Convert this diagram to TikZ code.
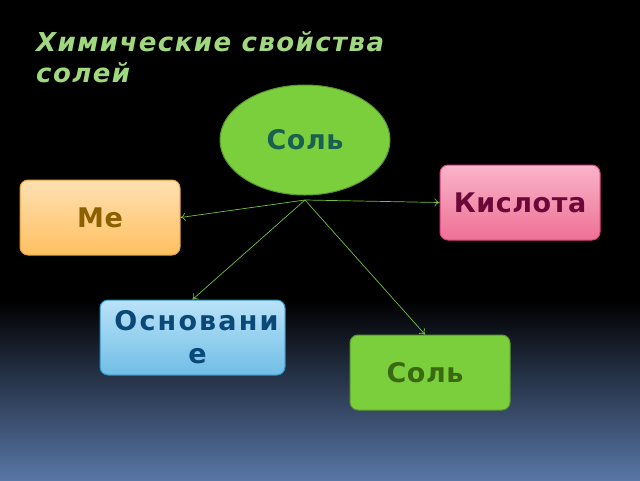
\documentclass[tikz,border=0pt]{standalone}
\usepackage{fontspec}
\setmainfont{DejaVu Sans}
\newfontfamily\boxfont[LetterSpace=2]{DejaVu Sans Bold}
\newfontfamily\widefont[LetterSpace=8]{DejaVu Sans Bold}
\newfontfamily\titlefont[LetterSpace=5.5]{DejaVu Sans Bold Oblique}
\usetikzlibrary{shapes.geometric,arrows.meta}
\definecolor{titlegreen}{RGB}{160,216,128}
\definecolor{saltgreen}{RGB}{124,207,60}
\definecolor{saltborder}{RGB}{90,152,48}
\definecolor{saltteal}{RGB}{26,96,80}
\definecolor{saltdark}{RGB}{58,106,16}
\definecolor{pinktop}{RGB}{250,180,202}
\definecolor{pinkbot}{RGB}{238,112,150}
\definecolor{pinkborder}{RGB}{224,64,128}
\definecolor{maroon}{RGB}{106,8,56}
\definecolor{orangetop}{RGB}{255,224,178}
\definecolor{orangebot}{RGB}{255,192,96}
\definecolor{orangeborder}{RGB}{224,160,64}
\definecolor{metext}{RGB}{138,96,0}
\definecolor{bluetop}{RGB}{186,226,248}
\definecolor{bluebot}{RGB}{112,190,230}
\definecolor{blueborder}{RGB}{48,144,192}
\definecolor{bluetext}{RGB}{10,72,120}
\definecolor{arrowgreen}{RGB}{112,192,64}
\definecolor{bgbottom}{RGB}{88,118,166}
\tikzset{
  boxbase/.style={rounded corners=8pt, minimum width=160pt, minimum height=75pt,
    line width=1pt, font=\boxfont\fontsize{27}{33}\selectfont, align=center, inner sep=0pt},
  link/.style={draw=arrowgreen, line width=0.7pt, -{To[length=5pt,width=8pt]}},
}
\begin{document}
\begin{tikzpicture}[x=1pt,y=-1pt]
\useasboundingbox (0,0) rectangle (640,480);
\fill[black] (0,0) rectangle (640,480);
\shade[top color=black, bottom color=bgbottom] (0,300) rectangle (640,480);
\node[anchor=base west, text=titlegreen, font=\titlefont\fontsize{26}{31}\selectfont, inner sep=0pt, align=left] (title) at (36,82) {Химические свойства\\солей};
\node[ellipse, minimum width=170pt, minimum height=110pt, fill=saltgreen, draw=saltborder, line width=1pt, text=saltteal, font=\boxfont\fontsize{27}{33}\selectfont] (salt) at (305,140) {Соль};
\node[boxbase, top color=pinktop, bottom color=pinkbot, draw=pinkborder, text=maroon] (acid) at (520,202.5) {Кислота};
\node[boxbase, top color=orangetop, bottom color=orangebot, draw=orangeborder, text=metext] (me) at (100,217.5) {Me};
\node[boxbase, minimum width=185pt, top color=bluetop, bottom color=bluebot, draw=blueborder, text=bluetext, font=\widefont\fontsize{27}{33}\selectfont] (base) at (192.5,337.5) {\hspace*{8pt}Основани\\\hspace*{10pt}е};
\node[boxbase, fill=saltgreen, draw=saltborder, text=saltdark] (salt2) at (430,372.5) {Соль\hspace*{10pt}};
\coordinate (hub) at (305,200);
\draw[link] (hub) -- (me.east);
\draw[link] (hub) -- (acid.west);
\draw[link] (hub) -- (base.north);
\draw[link] (hub) -- ([xshift=-5pt]salt2.north);
\end{tikzpicture}
\end{document}
